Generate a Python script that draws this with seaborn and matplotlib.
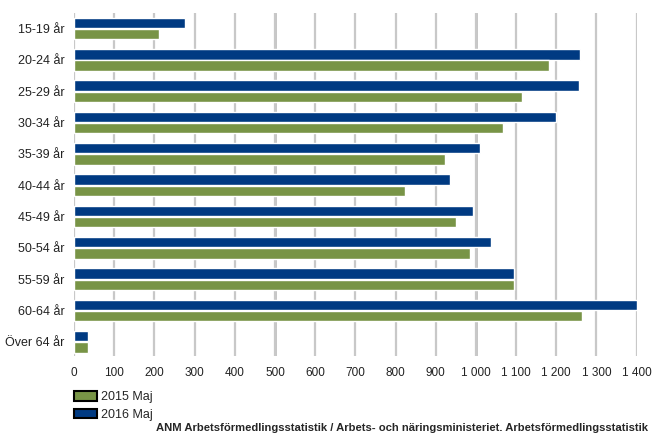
import seaborn as sns
import pandas as pd
import matplotlib
matplotlib.use("Agg")
import matplotlib.pyplot as plt
import matplotlib.ticker as ticker
from matplotlib.patches import Patch

sns.set_style("white")
plt.rcParams['font.family'] = ['Liberation Sans', 'DejaVu Sans']

# data
age_groups = ["15-19 år", "20-24 år", "25-29 år", "30-34 år", "35-39 år", "40-44 år",
              "45-49 år", "50-54 år", "55-59 år", "60-64 år", "Över 64 år"]
maj_2015 = [211, 1182, 1115, 1067, 923, 824, 950, 985, 1095, 1264, 34]
maj_2016 = [276, 1259, 1257, 1199, 1010, 936, 993, 1038, 1095, 1402, 34]
series = ["2016 Maj", "2015 Maj"]
colors = {"2015 Maj": "#789446", "2016 Maj": "#003a82"}
footer = "ANM Arbetsförmedlingsstatistik / Arbets- och näringsministeriet. Arbetsförmedlingsstatistik"

df = pd.concat([
    pd.DataFrame({"Ålder": age_groups, "Antal": maj_2016, "Period": "2016 Maj"}),
    pd.DataFrame({"Ålder": age_groups, "Antal": maj_2015, "Period": "2015 Maj"}),
], ignore_index=True)

fig = plt.figure(figsize=(6.55, 4.34), dpi=100)
ax = fig.add_axes([0.113, 0.180, 0.859, 0.790])

sns.barplot(data=df, y="Ålder", x="Antal", hue="Period", hue_order=series,
            palette=colors, orient="h", width=0.72, gap=0.08, saturation=1,
            legend=False, ax=ax)

ax.set_xlim(0, 1400)
ax.set_ylim(10.45, -0.5)
ax.xaxis.set_major_locator(ticker.MultipleLocator(100))
ax.xaxis.set_major_formatter(ticker.FuncFormatter(
    lambda v, p: f"{int(v):,}".replace(",", " ")))
ax.set_axisbelow(True)
ax.grid(axis="x", color="#c8c8c8", linewidth=1.6)
ax.grid(axis="y", visible=False)
for x in (500, 1000):
    ax.axvline(x, color="#b4b4b4", linewidth=1.8, zorder=0)
for s in ax.spines.values():
    s.set_visible(False)
ax.tick_params(axis="both", length=0, labelsize=9, colors="#222222")
ax.tick_params(axis="x", labelsize=8.5, pad=8)
ax.tick_params(axis="y", pad=7)
ax.set_xlabel("")
ax.set_ylabel("")

handles = [Patch(facecolor=colors["2015 Maj"], edgecolor="black", linewidth=1.5),
           Patch(facecolor=colors["2016 Maj"], edgecolor="black", linewidth=1.5)]
fig.legend(handles, ["2015 Maj", "2016 Maj"], loc="upper left",
           bbox_to_anchor=(0.113, 0.099), frameon=False, fontsize=9,
           handlelength=1.85, handleheight=0.8, handletextpad=0.3,
           labelspacing=0.45, borderpad=0, borderaxespad=0)

fig.text(0.238, 0.014, footer, fontsize=8.1, fontweight="bold", va="center", ha="left")

fig.savefig("out.png", dpi=100)
